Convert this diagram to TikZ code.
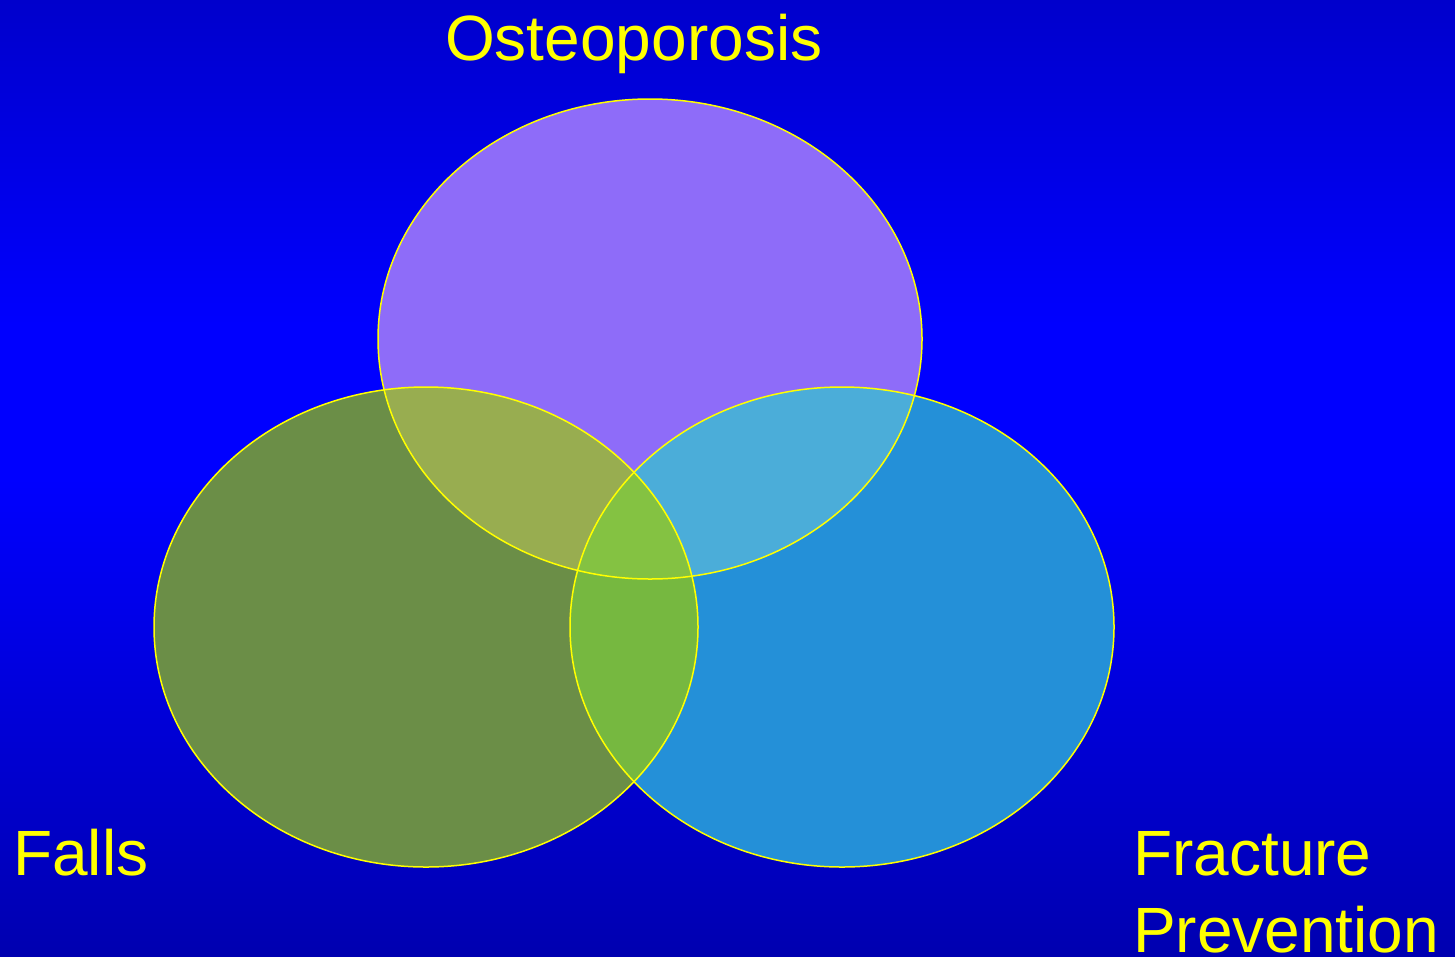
\documentclass[tikz,border=0pt]{standalone}
\usepackage{fontspec}
\setmainfont{Liberation Sans}
\definecolor{bgtop}{HTML}{0000CC}
\definecolor{bgmid}{HTML}{0000FF}
\definecolor{bgbot}{HTML}{0000B0}
\definecolor{cpurple}{HTML}{8E6CF9}
\definecolor{colive}{HTML}{6B8E47}
\definecolor{cblue}{HTML}{2490D8}
\definecolor{ctl}{HTML}{98AD50}
\definecolor{ctr}{HTML}{4BADD9}
\definecolor{clr}{HTML}{76B840}
\definecolor{ccenter}{HTML}{84C242}
\definecolor{cyellow}{HTML}{FFFF00}
\pgfdeclareverticalshading{bgshade}{100bp}{color(0bp)=(bgbot); color(25bp)=(bgbot); color(50bp)=(bgmid); color(58bp)=(bgmid); color(75bp)=(bgtop); color(100bp)=(bgtop)}
\tikzset{
  outline/.style={draw=cyellow, line width=1.5pt},
  label/.style={text=cyellow, inner sep=0pt, anchor=base west, font=\fontsize{64}{77}\selectfont}
}
\begin{document}
\begin{tikzpicture}[x=1pt,y=-1pt]
\useasboundingbox (0,0) rectangle (1455,956);
\shade[shading=bgshade] (0,0) rectangle (1455,956);
% base fills
\fill[cpurple] (650,339) ellipse [x radius=272pt, y radius=240pt];
\fill[colive] (426,627) ellipse [x radius=272pt, y radius=240pt];
\fill[cblue] (842,627) ellipse [x radius=272pt, y radius=240pt];
% overlaps
\begin{scope}
  \clip (650,339) ellipse [x radius=272pt, y radius=240pt];
  \fill[ctl] (426,627) ellipse [x radius=272pt, y radius=240pt];
  \fill[ctr] (842,627) ellipse [x radius=272pt, y radius=240pt];
\end{scope}
\begin{scope}
  \clip (426,627) ellipse [x radius=272pt, y radius=240pt];
  \fill[clr] (842,627) ellipse [x radius=272pt, y radius=240pt];
\end{scope}
\begin{scope}
  \clip (650,339) ellipse [x radius=272pt, y radius=240pt];
  \clip (426,627) ellipse [x radius=272pt, y radius=240pt];
  \fill[ccenter] (842,627) ellipse [x radius=272pt, y radius=240pt];
\end{scope}
% outlines
\draw[outline] (650,339) ellipse [x radius=272pt, y radius=240pt];
\draw[outline] (426,627) ellipse [x radius=272pt, y radius=240pt];
\draw[outline] (842,627) ellipse [x radius=272pt, y radius=240pt];
% labels
\node[label] (osteo) at (445,60) {Osteoporosis};
\node[label] (falls) at (13,875) {Falls};
\node[label] (fracture) at (1133,875) {Fracture};
\node[label] (prevention) at (1133,952) {Prevention};
\end{tikzpicture}
\end{document}
